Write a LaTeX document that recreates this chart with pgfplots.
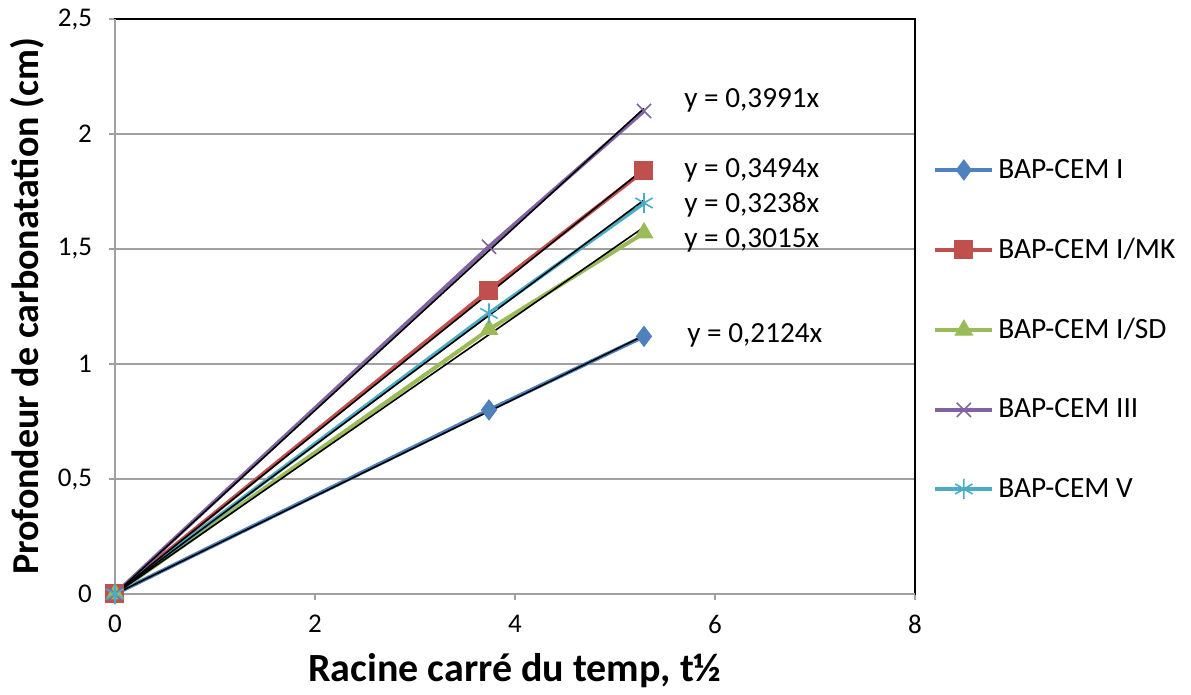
\documentclass[border=0pt]{standalone}
\usepackage{pgfplots}
\pgfplotsset{compat=1.18}
\usepackage{fontspec}
\setmainfont{Carlito}
\definecolor{cI}{HTML}{4F81BD}
\definecolor{cMK}{HTML}{C0504D}
\definecolor{cSD}{HTML}{9BBB59}
\definecolor{cIII}{HTML}{8064A2}
\definecolor{cV}{HTML}{4BACC6}
\definecolor{gridg}{HTML}{A0A0A0}
\begin{document}
\begin{tikzpicture}
\begin{axis}[
  at={(0,0)}, anchor=south west,
  scale only axis, width=400pt, height=287.5pt,
  xmin=0, xmax=8, ymin=0, ymax=2.5,
  xtick={0,2,4,6,8}, ytick={0,0.5,1,1.5,2,2.5},
  xtick pos=bottom, ytick pos=left, tick align=outside,
  major tick length=3pt,
  tick style={gridg, line width=0.8pt},
  ymajorgrids, grid style={gridg, line width=0.8pt},
  axis line style={black, line width=0.8pt},
  /pgf/number format/assume math mode=true,
  /pgf/number format/use comma,
  ticklabel style={font=\fontsize{13.5}{15}\selectfont},
  xticklabel style={yshift=-4pt},
  yticklabel style={xshift=-5pt},
  xlabel={\textbf{Racine carré du temp, t½}},
  ylabel={\textbf{Profondeur de carbonatation (cm)}},
  xlabel style={font=\fontsize{20}{22}\selectfont, yshift=-3pt},
  ylabel style={font=\fontsize{19}{21}\selectfont, yshift=0pt},
  legend style={at={(1.015,0.46)}, anchor=west, draw=none, fill=none,
    font=\fontsize{14.7}{17}\selectfont, row sep=24.5pt,
    legend cell align=left},
  legend image code/.code={
    \draw[mark repeat=2,mark phase=2] plot coordinates {(0cm,0cm) (0.5cm,0cm) (1.0cm,0cm)};
  },
  clip=false,
]
\addplot[cI, line width=2pt, mark=diamond*, mark size=5pt, mark options={fill=cI, line width=0.5pt}]
  coordinates {(0,0) (3.74,0.80) (5.29,1.12)};
\addlegendentry{BAP-CEM I}
\addplot[cMK, line width=2pt, mark=square*, mark size=4.5pt, mark options={fill=cMK, line width=0.5pt}]
  coordinates {(0,0) (3.74,1.32) (5.29,1.84)};
\addlegendentry{BAP-CEM I/MK}
\addplot[cSD, line width=2pt, mark=triangle*, mark size=5pt, mark options={fill=cSD, line width=0.5pt}]
  coordinates {(0,0) (3.74,1.15) (5.29,1.57)};
\addlegendentry{BAP-CEM I/SD}
\addplot[cIII, line width=2pt, mark=x, mark size=5pt, mark options={line width=0.8pt}]
  coordinates {(0,0) (3.74,1.51) (5.29,2.10)};
\addlegendentry{BAP-CEM III}
\addplot[cV, line width=2pt, mark=asterisk, mark size=5pt, mark options={line width=0.8pt}]
  coordinates {(0,0) (3.74,1.22) (5.29,1.70)};
\addlegendentry{BAP-CEM V}
% trend lines
\addplot[black, line width=0.8pt, forget plot] coordinates {(0,0) (5.29,1.1236)};
\addplot[black, line width=0.8pt, forget plot] coordinates {(0,0) (5.29,1.8483)};
\addplot[black, line width=0.8pt, forget plot] coordinates {(0,0) (5.29,1.5949)};
\addplot[black, line width=0.8pt, forget plot] coordinates {(0,0) (5.29,2.1112)};
\addplot[black, line width=0.8pt, forget plot] coordinates {(0,0) (5.29,1.7129)};
% trend line equations
\node[anchor=west, font=\fontsize{14.6}{16}\selectfont, inner sep=0pt] at (axis cs:5.69,2.148) {y = 0,3991x};
\node[anchor=west, font=\fontsize{14.6}{16}\selectfont, inner sep=0pt] at (axis cs:5.69,1.843) {y = 0,3494x};
\node[anchor=west, font=\fontsize{14.6}{16}\selectfont, inner sep=0pt] at (axis cs:5.69,1.691) {y = 0,3238x};
\node[anchor=west, font=\fontsize{14.6}{16}\selectfont, inner sep=0pt] at (axis cs:5.69,1.539) {y = 0,3015x};
\node[anchor=west, font=\fontsize{14.6}{16}\selectfont, inner sep=0pt] at (axis cs:5.72,1.126) {y = 0,2124x};
\draw[gridg, line width=0.8pt] (rel axis cs:0,0) -- (rel axis cs:0,1);
\draw[gridg, line width=0.8pt] (rel axis cs:0,0) -- (rel axis cs:1,0);
\end{axis}
\path (-57.5pt,-50.5pt) rectangle (538pt,297pt);
\end{tikzpicture}
\end{document}
